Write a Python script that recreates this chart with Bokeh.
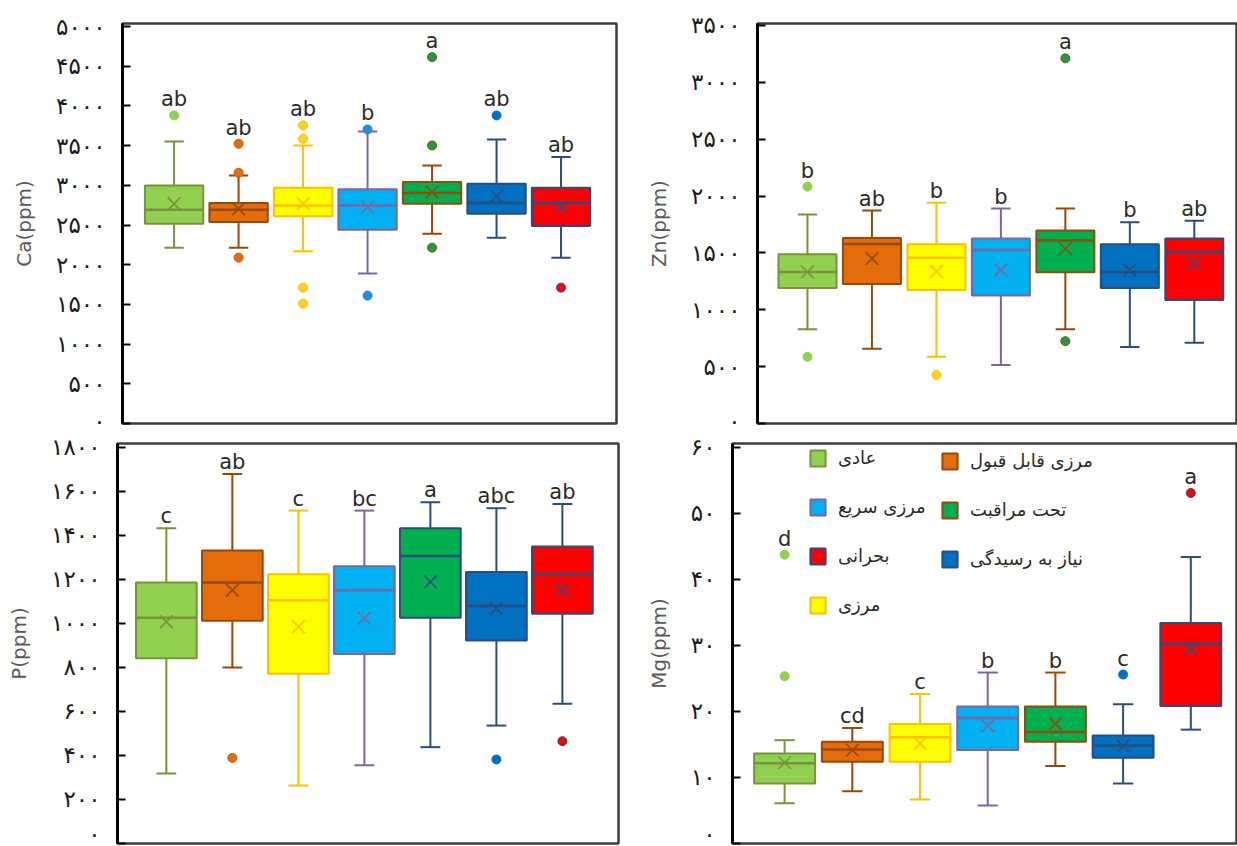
import numpy as np
from bokeh.plotting import figure
from bokeh.models import Range1d, FixedTicker, Legend, LegendItem
from bokeh.layouts import row, column
from bokeh.embed import file_html
from bokeh.resources import INLINE
from bokeh.core.properties import value

categories = ["عادی", "مرزی قابل قبول", "مرزی", "مرزی سریع", "تحت مراقبت", "نیاز به رسیدگی", "بحرانی"]

# ---- Ca (ppm)
ca_low = [2215, 2215, 2169, 1888, 2391, 2341, 2089]
ca_q1 = [2517, 2538, 2609, 2441, 2768, 2643, 2487]
ca_med = [2693, 2693, 2747, 2747, 2903, 2777, 2777]
ca_q3 = [2999, 2777, 2970, 2949, 3041, 3020, 2970]
ca_high = [3553, 3125, 3502, 3679, 3251, 3578, 3356]
ca_mean = [2768, 2705, 2768, 2726, 2915, 2861, 2726]
ca_outliers = [[3880], [3523, 3158, 2089], [3754, 3586, 1711, 1510], [3704, 1611], [4614, 3502, 2215], [3880], [1711]]
ca_letters = ["ab", "ab", "ab", "b", "a", "ab", "ab"]
ca_ticks = [0, 500, 1000, 1500, 2000, 2500, 3000, 3500, 4000, 4500, 5000]

# ---- Zn (ppm)
zn_low = [828, 658, 586, 514, 828, 672, 710]
zn_q1 = [1192, 1226, 1174, 1125, 1330, 1192, 1085]
zn_med = [1333, 1578, 1457, 1526, 1610, 1333, 1506]
zn_q3 = [1489, 1630, 1575, 1627, 1697, 1575, 1627]
zn_high = [1838, 1872, 1942, 1890, 1890, 1769, 1783]
zn_mean = [1333, 1451, 1336, 1350, 1538, 1350, 1408]
zn_outliers = [[2083, 586], [], [427], [], [3211, 724], [], []]
zn_letters = ["b", "ab", "b", "b", "a", "b", "ab"]
zn_ticks = [0, 500, 1000, 1500, 2000, 2500, 3000, 3500]

# ---- P (ppm)
p_low = [318, 800, 264, 356, 438, 536, 635]
p_q1 = [842, 1012, 771, 861, 1026, 923, 1044]
p_med = [1026, 1186, 1106, 1151, 1307, 1080, 1224]
p_q3 = [1186, 1332, 1224, 1260, 1433, 1234, 1350]
p_high = [1433, 1679, 1513, 1513, 1551, 1524, 1543]
p_mean = [1008, 1151, 985, 1023, 1189, 1068, 1151]
p_outliers = [[], [389], [], [], [], [382], [465]]
p_letters = ["c", "ab", "c", "bc", "a", "abc", "ab"]
p_ticks = [0, 200, 400, 600, 800, 1000, 1200, 1400, 1600, 1800]

# ---- Mg (ppm)
mg_low = [6.1, 7.9, 6.65, 5.75, 11.75, 9.1, 17.25]
mg_q1 = [9.1, 12.4, 12.4, 14.15, 15.4, 13.0, 20.85]
mg_med = [12.15, 14.25, 16.1, 19.0, 16.9, 14.85, 30.25]
mg_q3 = [13.65, 15.4, 18.1, 20.75, 20.75, 16.35, 33.4]
mg_high = [15.65, 17.5, 22.65, 25.9, 25.9, 21.1, 43.4]
mg_mean = [12.25, 14.15, 15.15, 17.85, 18.15, 14.75, 29.5]
mg_outliers = [[43.75, 25.35], [], [], [], [], [25.6], [53.1]]
mg_letters = ["d", "cd", "c", "b", "b", "c", "a"]
mg_ticks = [0, 10, 20, 30, 40, 50, 60]

# ---- styles
FILLS = ["#92D050", "#E46C0A", "#FFFF00", "#00B0F0", "#00B050", "#0070C0", "#FF0000"]
LINES = ["#77933C", "#984807", "#FFC000", "#8064A2", "#984807", "#2B4C7E", "#2B4C7E"]
LINES_P = ["#77933C", "#984807", "#FFC000", "#8064A2", "#2B4C7E", "#2B4C7E", "#2B4C7E"]
DOT_FILL = ["#92D050", "#E46C0A", "#FFD21F", "#1E90E0", "#1E9B46", "#0070C0", "#FF0000"]
DOT_LINE = ["#92D050", "#C55A11", "#FFC000", "#3A78C8", "#984807", "#0070C0", "#2B4C7E"]

FA_DIGITS = "۰۱۲۳۴۵۶۷۸۹"


def fa(n):
    return "".join(FA_DIGITS[int(c)] for c in str(int(n)))


def panel(w, h, borders, xr, yend, ticks, ylabel, low, q1, med, q3, high, mean,
          outliers, letters, line_colors, bw):
    bl, br, bt, bb = borders
    p = figure(width=w, height=h, x_range=Range1d(*xr), y_range=Range1d(0, yend),
               output_backend="svg", toolbar_location=None, x_axis_location=None,
               min_border_left=bl, min_border_right=br, min_border_top=bt,
               min_border_bottom=bb, background_fill_color="white",
               border_fill_color="white")
    p.xgrid.visible = False
    p.ygrid.visible = False
    p.outline_line_color = "#3c3c3c"
    p.outline_line_width = 2.5

    ax = p.yaxis[0]
    ax.ticker = FixedTicker(ticks=ticks)
    ax.major_label_overrides = {t: fa(t) for t in ticks}
    ax.axis_line_color = "black"
    ax.axis_line_width = 3
    ax.major_tick_in = 8
    ax.major_tick_out = 0
    ax.major_tick_line_width = 2
    ax.major_tick_line_color = "black"
    ax.minor_tick_line_color = None
    ax.major_label_standoff = 17
    ax.major_label_text_font = "DejaVu Sans"
    ax.major_label_text_font_size = "23px"
    ax.major_label_text_font_style = "normal"
    ax.major_label_text_color = "#1a1a1a"
    ax.axis_label = ylabel
    ax.axis_label_text_font = "DejaVu Sans"
    ax.axis_label_text_font_size = "20px"
    ax.axis_label_text_font_style = "normal"
    ax.axis_label_text_color = "#595959"
    ax.axis_label_standoff = 17

    xs = np.arange(1, len(low) + 1, dtype=float)
    cap = 0.3
    p.segment(x0=xs, y0=q3, x1=xs, y1=high, line_color=line_colors, line_width=2)
    p.segment(x0=xs, y0=low, x1=xs, y1=q1, line_color=line_colors, line_width=2)
    p.segment(x0=xs - cap / 2, y0=high, x1=xs + cap / 2, y1=high, line_color=line_colors, line_width=2)
    p.segment(x0=xs - cap / 2, y0=low, x1=xs + cap / 2, y1=low, line_color=line_colors, line_width=2)

    boxes = []
    for i in range(len(low)):
        r = p.vbar(x=[xs[i]], top=[q3[i]], bottom=[q1[i]], width=bw,
                   fill_color=FILLS[i], line_color=line_colors[i], line_width=2)
        boxes.append(r)

    p.segment(x0=xs - bw / 2, y0=med, x1=xs + bw / 2, y1=med, line_color=line_colors, line_width=2.5)
    p.scatter(x=xs, y=mean, marker="x", size=18, line_color=line_colors, line_width=1.6)

    ox, oy, of, ol = [], [], [], []
    for i, vals in enumerate(outliers):
        for v in vals:
            ox.append(xs[i]); oy.append(v); of.append(DOT_FILL[i]); ol.append(DOT_LINE[i])
    p.scatter(x=ox, y=oy, marker="circle", size=9, fill_color=of, line_color=ol, line_width=1)

    tops, offs = [], []
    for i in range(len(low)):
        top_out = max(outliers[i]) if outliers[i] else None
        if top_out is not None and top_out > high[i]:
            tops.append(top_out); offs.append(-16)
        else:
            tops.append(high[i]); offs.append(-12)
    p.text(x=xs, y=tops, text=letters, text_align="center", text_baseline="middle",
           y_offset=offs, text_font=value("DejaVu Sans"), text_font_size="21px",
           text_color="#2a2a2a")
    return p, boxes


p1, _ = panel(620, 433, (122, 4, 23, 10), (0.2, 7.86), 5038, ca_ticks, "Ca(ppm)",
              ca_low, ca_q1, ca_med, ca_q3, ca_high, ca_mean, ca_outliers, ca_letters, LINES, 0.905)
p2, _ = panel(617, 433, (137, 0, 19, 7), (0.225, 7.67), 3517, zn_ticks, "Zn(ppm)",
              zn_low, zn_q1, zn_med, zn_q3, zn_high, zn_mean, zn_outliers, zn_letters, LINES, 0.9)
p3, _ = panel(620, 413, (117, 2, 10, 3), (0.26, 7.85), 1818, p_ticks, "P(ppm)",
              p_low, p_q1, p_med, p_q3, p_high, p_mean, p_outliers, p_letters, LINES_P, 0.92)
p4, mg_boxes = panel(617, 413, (112, 0, 8, 1), (0.23, 7.69), 60.6, mg_ticks, "Mg(ppm)",
                     mg_low, mg_q1, mg_med, mg_q3, mg_high, mg_mean, mg_outliers, mg_letters, LINES, 0.9)


def make_legend(idx, loc):
    leg = Legend(items=[LegendItem(label=value(categories[i]), renderers=[mg_boxes[i]]) for i in idx],
                 location=loc, orientation="vertical")
    leg.border_line_color = None
    leg.background_fill_alpha = 0
    leg.padding = 0
    leg.margin = 0
    leg.spacing = 28
    leg.glyph_width = 19
    leg.glyph_height = 20
    leg.label_height = 20
    leg.label_standoff = 11
    leg.label_text_font = "DejaVu Sans"
    leg.label_text_font_size = "18px"
    leg.label_text_color = "#2a2a2a"
    return leg


p4.add_layout(make_legend([0, 3, 6, 2], (76, 228)))
p4.add_layout(make_legend([1, 4, 5], (208, 274)))

layout = column(row(p1, p2), row(p3, p4))
open("out.html", "w").write(file_html(layout, INLINE))
